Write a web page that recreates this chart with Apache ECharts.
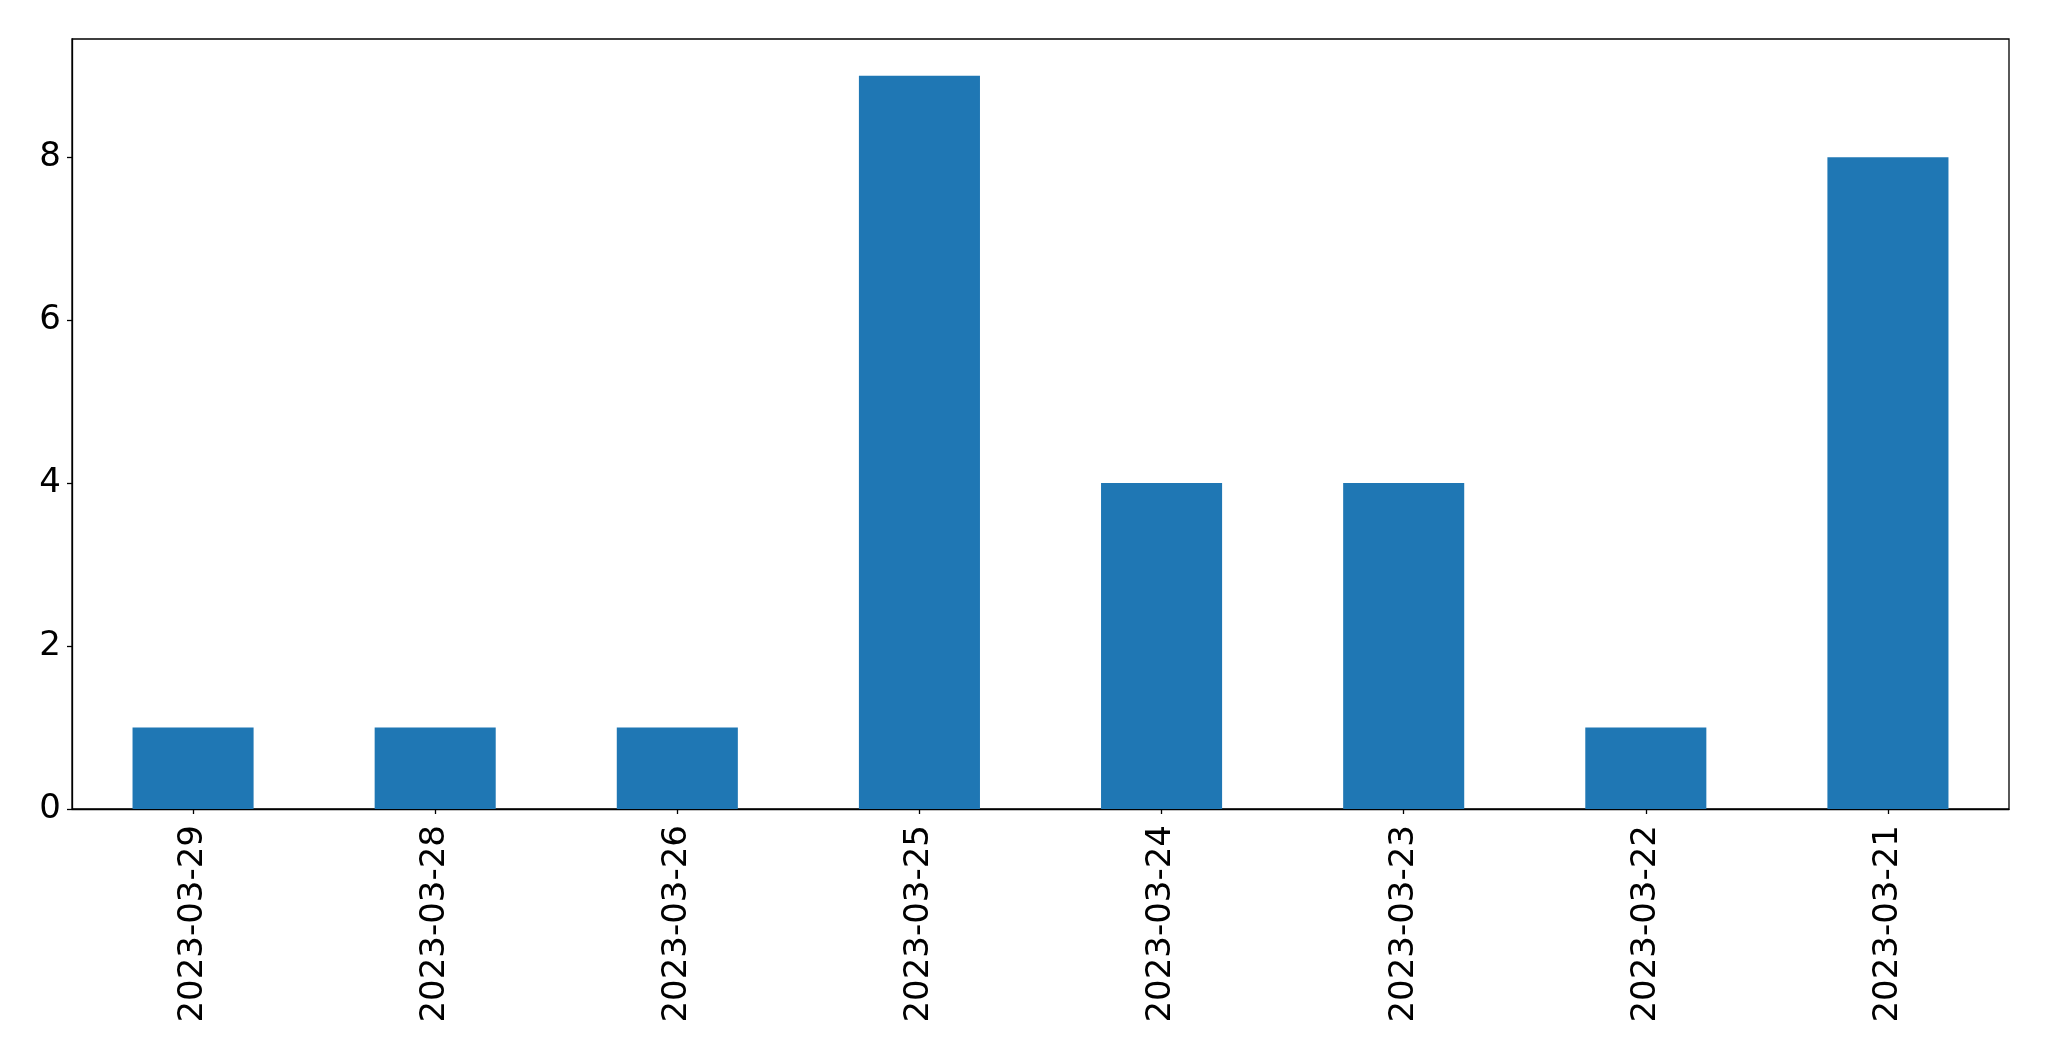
<!DOCTYPE html>
<html>
<head>
<meta charset="utf-8">
<script src="https://cdn.jsdelivr.net/npm/echarts@6/dist/echarts.min.js"></script>
<style>
html,body{margin:0;padding:0;background:#fff;}
#chart{width:2049px;height:1061px;}
</style>
</head>
<body>
<div id="chart"></div>
<script>
const categories = ['2023-03-29','2023-03-28','2023-03-26','2023-03-25','2023-03-24','2023-03-23','2023-03-22','2023-03-21'];
const values = [1, 1, 1, 9, 4, 4, 1, 8];
const yTicks = [0, 2, 4, 6, 8];

const chart = echarts.init(document.getElementById('chart'), null, {renderer: 'canvas'});
const font = 'DejaVu Sans';
chart.setOption({
  animation: false,
  backgroundColor: '#ffffff',
  grid: {
    left: 72, right: 40, top: 39, bottom: 252,
    show: true, borderColor: '#000', borderWidth: 1.3, backgroundColor: 'transparent'
  },
  xAxis: {
    type: 'category',
    data: categories,
    boundaryGap: true,
    axisLine: {show: true, lineStyle: {color: '#000', width: 1.3}},
    axisTick: {show: true, alignWithLabel: true, length: 5, lineStyle: {color: '#000', width: 1.3}},
    axisLabel: {rotate: 90, fontSize: 34, fontFamily: font, color: '#000', margin: 16, interval: 0},
    splitLine: {show: false}
  },
  yAxis: {
    type: 'value',
    min: 0,
    max: 9.45,
    interval: 2,
    axisLine: {show: true, lineStyle: {color: '#000', width: 1.3}},
    axisTick: {show: true, length: 5, lineStyle: {color: '#000', width: 1.3}},
    axisLabel: {
      fontSize: 34, fontFamily: font, color: '#000', margin: 11,
      padding: [5, 0, 0, 0],
      showMaxLabel: false,
      formatter: function (v) { return yTicks.indexOf(v) >= 0 ? String(v) : ''; }
    },
    splitLine: {show: false}
  },
  series: [{
    type: 'bar',
    data: values,
    barWidth: '50%',
    itemStyle: {color: '#1f77b4'}
  }]
});
</script>
</body>
</html>
